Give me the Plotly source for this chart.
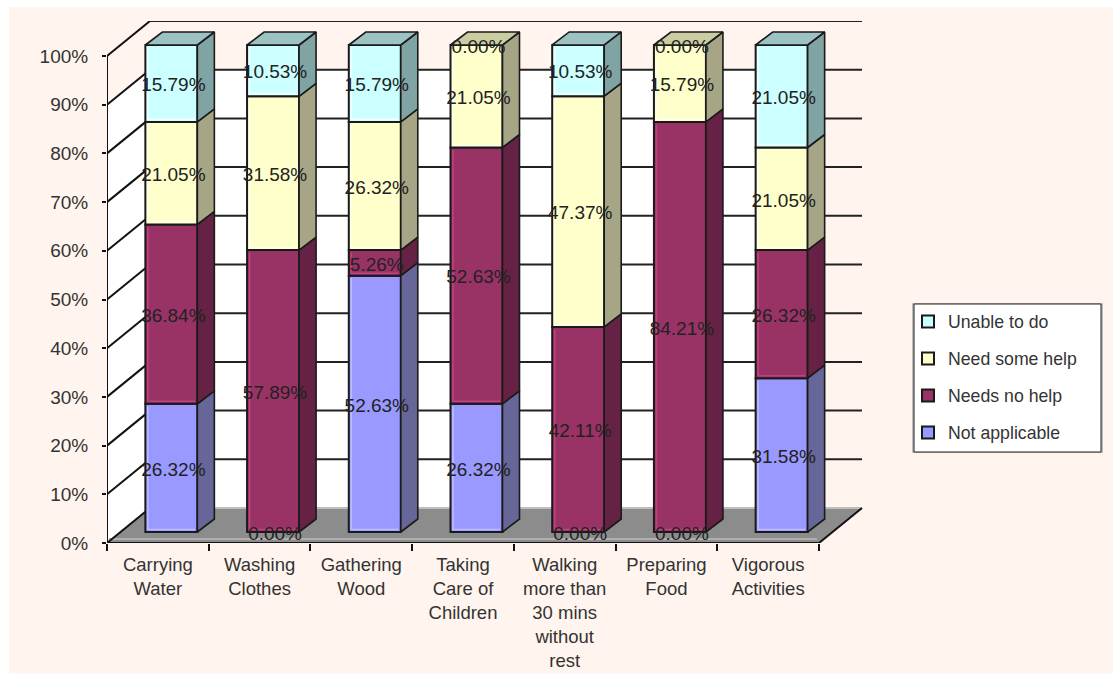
import plotly.graph_objects as go

categories = ["Carrying<br>Water", "Washing<br>Clothes", "Gathering<br>Wood", "Taking<br>Care of<br>Children",
              "Walking<br>more than<br>30 mins<br>without<br>rest", "Preparing<br>Food", "Vigorous<br>Activities"]
not_applicable = [26.32, 0.00, 52.63, 26.32, 0.00, 0.00, 31.58]
needs_no_help = [36.84, 57.89, 5.26, 52.63, 42.11, 84.21, 26.32]
need_some_help = [21.05, 31.58, 26.32, 21.05, 47.37, 15.79, 21.05]
unable_to_do = [15.79, 10.53, 15.79, 0.00, 10.53, 0.00, 21.05]
percent_ticks = [0, 10, 20, 30, 40, 50, 60, 70, 80, 90, 100]
percent_labels = ["0%", "10%", "20%", "30%", "40%", "50%", "60%", "70%", "80%", "90%", "100%"]

series = [
    ("Not applicable", not_applicable, "#9999FF", "#666699", "#8080CC", "#BBBBFF"),
    ("Needs no help", needs_no_help, "#993366", "#662244", "#7A2952", "#C2407F"),
    ("Need some help", need_some_help, "#FFFFCC", "#A6A686", "#CCCCA3", "#FFFFE8"),
    ("Unable to do", unable_to_do, "#CCFFFF", "#80A3A3", "#9CC2C2", "#F0FFFF"),
]

W, H = 1113, 674
L, R, T, B = 107, 863, 21, 543
CAT_PX = (819 - 107) / 7
PCT_PX = 4.87
X0 = -0.5
WALL_DX, WALL_DY = 43 / CAT_PX, 35 / PCT_PX
BAR_DX, BAR_DY = 13.5 / CAT_PX, 11 / PCT_PX
DEPTH_DX, DEPTH_DY = 17 / CAT_PX, 13 / PCT_PX
BAR_W = 52 / CAT_PX
INSET_X, INSET_Y = 2.5 / CAT_PX, 2.5 / PCT_PX
LABEL_SHIFT_X = 2 / CAT_PX
LABEL_SHIFT_Y = -3 / PCT_PX
LABEL_FONT = "Liberation Sans, Arial, sans-serif"
INK = "#1a1a1a"
N = len(categories)


def px(x):
    return (x - L) / (R - L)


def py(y):
    return (B - y) / (B - T)


def poly(points, fill, line=None, width=0, xref="x", yref="y"):
    d = "M" + "L".join(f"{x},{y}" for x, y in points) + "Z"
    return dict(type="path", path=d, fillcolor=fill, xref=xref, yref=yref, layer="below",
                line=dict(color=line or fill, width=width))


def seg(x0, y0, x1, y1, color=INK, width=2):
    return dict(type="line", x0=x0, y0=y0, x1=x1, y1=y1, layer="below", line=dict(color=color, width=width))


x_end = X0 + N
wall_right = X0 + (790 - L) / CAT_PX
shapes = [
    dict(type="rect", xref="paper", yref="paper", x0=px(9), x1=px(W + 5), y0=py(H - 0.5), y1=py(7), layer="below",
         fillcolor="#FFF5EE", line=dict(width=0)),
    poly([(X0, 0), (X0 + WALL_DX, WALL_DY), (X0 + WALL_DX, 90 + WALL_DY), (X0, 90)], "#FFFFFF"),
    poly([(X0 + WALL_DX, WALL_DY), (wall_right, WALL_DY), (wall_right, 90 + WALL_DY), (X0 + WALL_DX, 90 + WALL_DY)], "#FFFFFF"),
    poly([(X0, 0), (x_end, 0), (x_end + WALL_DX, WALL_DY), (X0 + WALL_DX, WALL_DY)], "#8C8C8C"),
    seg(X0 + WALL_DX, WALL_DY, x_end + WALL_DX, WALL_DY, "#BDBDBD", 2),
    seg(X0 + 0.02, 0.8, x_end - 0.02, 0.8, "#B0B0B0", 2),
]
for t in percent_ticks[1:]:
    shapes.append(seg(X0, t, X0 + WALL_DX, t + WALL_DY, "#111111", 2))
    shapes.append(seg(X0 + WALL_DX, t + WALL_DY, x_end + WALL_DX, t + WALL_DY, "#222222", 2))
shapes += [
    seg(X0, 0, X0 + WALL_DX, WALL_DY, "#111111", 2),
    seg(x_end, 0, x_end + WALL_DX, WALL_DY, "#111111", 2),
    seg(X0, 0, X0, 100, "#111111", 2),
    seg(X0, 0, x_end, 0, "#111111", 2),
    # legend frame
    dict(type="rect", xref="paper", yref="paper", x0=px(912), x1=px(1103), y0=py(453), y1=py(303), layer="below",
         fillcolor="#BDBDBD", line=dict(width=0)),
    dict(type="rect", xref="paper", yref="paper", x0=px(914), x1=px(1101), y0=py(452), y1=py(304), layer="below",
         fillcolor="#FFFFFF", line=dict(color="#222222", width=1)),
]

fig = go.Figure()
bar_x = [i + BAR_DX for i in range(N)]
bases = []
running = [0.0] * N
for rank, (name, values, face, side, top, glow) in enumerate(series):
    base = list(running)
    bases.append(base)
    fig.add_trace(go.Bar(
        x=bar_x, y=values, base=[b + BAR_DY for b in base], width=BAR_W, name=name, legendgroup=name,
        legendrank=100 - rank,
        marker=dict(color=face, line=dict(color=INK, width=2)), hoverinfo="skip",
    ))
    running = [b + v for b, v in zip(base, values)]

# Light bevel just inside the left and bottom edge of each front face
for (name, values, face, side, top, glow), base in zip(series, bases):
    xs, ys = [], []
    for i in range(N):
        if values[i] <= 2 * INSET_Y:
            continue
        xa = bar_x[i] - BAR_W / 2 + INSET_X
        xb = bar_x[i] + BAR_W / 2 - INSET_X
        y0, y1 = base[i] + BAR_DY + INSET_Y, base[i] + values[i] + BAR_DY - INSET_Y
        xs += [xb, xa, xa, None]
        ys += [y0, y0, y1, None]
    fig.add_trace(go.Scatter(x=xs, y=ys, mode="lines", line=dict(color=glow, width=1.6),
                             showlegend=False, hoverinfo="skip"))

# Receding side faces, derived from the stacked values
for (name, values, face, side, top, glow), base in zip(series, bases):
    xs, ys = [], []
    for i in range(N):
        if values[i] == 0:
            continue
        x1 = bar_x[i] + BAR_W / 2
        y0, y1 = base[i] + BAR_DY, base[i] + values[i] + BAR_DY
        xs += [x1, x1 + DEPTH_DX, x1 + DEPTH_DX, x1, x1, None]
        ys += [y0, y0 + DEPTH_DY, y1 + DEPTH_DY, y1, y0, None]
    fig.add_trace(go.Scatter(x=xs, y=ys, mode="lines", fill="toself", fillcolor=side,
                             line=dict(color=INK, width=1.6), showlegend=False, hoverinfo="skip"))

# Top faces, in the colour of the highest non-empty segment
for si, (name, values, face, side, top, glow) in enumerate(series):
    xs, ys = [], []
    for i in range(N):
        if values[i] == 0 or any(series[j][1][i] > 0 for j in range(si + 1, len(series))):
            continue
        xa, xb = bar_x[i] - BAR_W / 2, bar_x[i] + BAR_W / 2
        y = bases[si][i] + values[i] + BAR_DY
        xs += [xa, xb, xb + DEPTH_DX, xa + DEPTH_DX, xa, None]
        ys += [y, y, y + DEPTH_DY, y + DEPTH_DY, y, None]
    if xs:
        fig.add_trace(go.Scatter(x=xs, y=ys, mode="lines", fill="toself", fillcolor=top,
                                 line=dict(color=INK, width=1.6), showlegend=False, hoverinfo="skip"))

# Data labels
for (name, values, face, side, top, glow), base in zip(series, bases):
    fig.add_trace(go.Scatter(
        x=[x + LABEL_SHIFT_X for x in bar_x],
        y=[b + v / 2 + BAR_DY + LABEL_SHIFT_Y for b, v in zip(base, values)], mode="text",
        text=[f"{v:.2f}%" for v in values], textposition="middle center",
        textfont=dict(family=LABEL_FONT, size=19, color="#222222"), showlegend=False, hoverinfo="skip",
    ))

fig.update_layout(
    width=W, height=H, margin=dict(l=L, r=W - R, t=T, b=H - B, autoexpand=False),
    paper_bgcolor="#FFFFFF", plot_bgcolor="rgba(0,0,0,0)",
    barmode="overlay", shapes=shapes, showlegend=True, hovermode=False,
    font=dict(family=LABEL_FONT, color="#333333"),
    legend=dict(x=px(908), xanchor="left", y=py(303.5), yanchor="top", traceorder="grouped",
                tracegroupgap=11, itemwidth=30, bgcolor="rgba(0,0,0,0)", borderwidth=0,
                font=dict(family=LABEL_FONT, size=17.7, color="#333333"), itemclick=False, itemdoubleclick=False),
    xaxis=dict(range=[X0, X0 + (R - L) / CAT_PX], showgrid=False, zeroline=False, showline=False, automargin=False,
               tickmode="array", tickvals=list(range(N)), ticktext=categories, ticks="outside", ticklen=0,
               ticklabelstandoff=5, tickfont=dict(family=LABEL_FONT, size=18.5, color="#333333"),
               minor=dict(tickmode="array", tickvals=[X0 + i for i in range(N + 1)], ticks="outside",
                          ticklen=7, tickwidth=2, tickcolor="#111111", showgrid=False)),
    yaxis=dict(range=[0, (B - T) / PCT_PX], showgrid=False, zeroline=False, showline=False, automargin=False,
               tickmode="array", tickvals=percent_ticks, ticktext=percent_labels, ticks="outside", ticklen=4,
               tickwidth=2, tickcolor="#111111", ticklabelstandoff=10,
               tickfont=dict(family=LABEL_FONT, size=19, color="#333333")),
)

fig.write_html("out.html", config=dict(displayModeBar=False),
               post_script="document.body.style.margin='0';document.documentElement.style.overflow='hidden';")
